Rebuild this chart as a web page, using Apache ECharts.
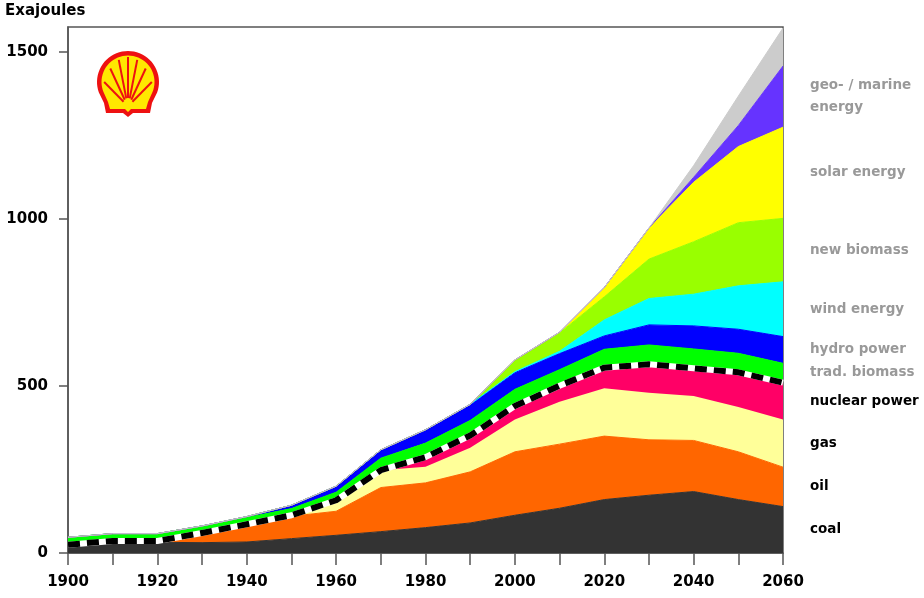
<!DOCTYPE html>
<html>
<head>
<meta charset="utf-8">
<script src="https://cdn.jsdelivr.net/npm/echarts@6/dist/echarts.min.js"></script>
<style>
html,body{margin:0;padding:0;background:#fff;}
#chart{width:924px;height:598px;}
</style>
</head>
<body>
<div id="chart"></div>
<script>
const years = ['1900','1910','1920','1930','1940','1950','1960','1970','1980','1990','2000','2010','2020','2030','2040','2050','2060'];
const coal        = [25,34,32,31,33,43,53,64,76,90,113,134,160,173,184,160,139];
const oil         = [0,2,4,29,53,67,72,132,134,153,190,192,190,166,153,143,118];
const gas         = [0,0,0,0,0,3,33,52,48,72,97,127,143,141,133,134,143];
const nuclear     = [0,0,0,0,0,0,0,0,29,37,40,48,62,85,83,104,110];
const nuclearEdge = [0,0,0,0,0,0,0,0,0,0,0,0,0,0,0,0,0];
const tradBiomass = [22,22,22,21,20,20,24,36,42,45,50,48,55,58,58,57,58];
const hydro       = [0,0,0,0,3,10,18,25,40,48,50,48,40,60,69,72,80];
const wind        = [0,0,0,0,0,0,0,0,0,0,3,7,48,79,95,130,164];
const newBiomass  = [0,0,0,0,0,0,0,0,0,0,35,55,69,118,157,189,190];
const solar       = [0,0,0,0,0,0,0,0,0,0,0,2,28,93,178,228,273];
const geoMarine   = [0,0,0,0,0,0,0,0,0,0,0,0,0,0,15,63,183];
const other       = [0,0,0,0,0,0,0,0,0,0,0,0,0,0,35,88,114];
const yTicks = [0,500,1000,1500];

const FONT = '"DejaVu Sans"';
const chart = echarts.init(document.getElementById('chart'), null, {renderer:'canvas'});

function area(name, data, color, z) {
  return {
    name, type:'line', stack:'total', data, showSymbol:false, symbol:'none',
    lineStyle:{width:1, color}, areaStyle:{color, opacity:1},
    emphasis:{disabled:true}, z: z || 2, silent:true
  };
}

const layers = [
  {name:'coal', data:coal, color:'#333333', label:'coal', lc:'#000'},
  {name:'oil', data:oil, color:'#FF6600', label:'oil', lc:'#000'},
  {name:'gas', data:gas, color:'#FFFF99', label:'gas', lc:'#000'},
  {name:'nuclear power', data:nuclear, color:'#FF0066', label:'nuclear power', lc:'#000'},
  {name:'trad. biomass', data:tradBiomass, color:'#00FF00', label:'trad. biomass', lc:'#999'},
  {name:'hydro power', data:hydro, color:'#0000FF', label:'hydro power', lc:'#999'},
  {name:'wind energy', data:wind, color:'#00FFFF', label:'wind energy', lc:'#999'},
  {name:'new biomass', data:newBiomass, color:'#99FF00', label:'new biomass', lc:'#999'},
  {name:'solar energy', data:solar, color:'#FFFF00', label:'solar energy', lc:'#999'},
  {name:'geo- / marine energy', data:geoMarine, color:'#6633FF', label:'geo- / marine\nenergy', lc:'#999'},
  {name:'other', data:other, color:'#CCCCCC', label:null}
];

const series = [];
layers.forEach(l => {
  const s = area(l.name, l.data, l.color);
  if (l.name === 'nuclear power') {
    s.lineStyle = {width:6, color:'#ffffff', cap:'butt', join:'round'};
    s.z = 4;
  }
  series.push(s);
  if (l.name === 'nuclear power') {
    series.push({
      name:'nuclear edge', type:'line', stack:'total', data:nuclearEdge, showSymbol:false, symbol:'none',
      lineStyle:{width:6, color:'#000', type:[12,7], cap:'butt', join:'round'},
      z:5, silent:true, emphasis:{disabled:true}
    });
  }
});

const axisColor = '#555';
chart.setOption({
  animation:false,
  backgroundColor:'#fff',
  grid:{left:68, right:141, top:27, bottom:45, show:true, borderColor:axisColor, borderWidth:1.5, backgroundColor:'transparent'},
  xAxis:{
    type:'category', data:years, boundaryGap:false,
    axisLine:{lineStyle:{color:axisColor, width:1.5}},
    axisTick:{show:true, length:12, interval:0, lineStyle:{color:axisColor, width:1.5}},
    axisLabel:{interval:1, color:'#000', fontFamily:FONT, fontWeight:'bold', fontSize:15, margin:22},
    splitLine:{show:false}
  },
  yAxis:{
    type:'value', min:0, max:1575, interval:500,
    axisLine:{show:true, lineStyle:{color:axisColor, width:1.5}},
    axisTick:{show:true, length:9, lineStyle:{color:axisColor, width:1.5}, customValues:yTicks},
    axisLabel:{color:'#000', fontFamily:FONT, fontWeight:'bold', fontSize:15, margin:20, customValues:yTicks,
      formatter: v => String(v)},
    splitLine:{show:false}
  },
  series
});

// right-side labels centered on each band at the last year
const last = years.length - 1;
let cum = 0;
const gfx = [];
const labelX = chart.convertToPixel({xAxisIndex:0}, years[last]) + 27;
layers.forEach(l => {
  const lo = cum;
  cum += l.data[last];
  if (!l.label) return;
  const y = chart.convertToPixel({yAxisIndex:0}, (lo + cum) / 2);
  gfx.push({
    type:'text', x:labelX, y:y, silent:true,
    style:{text:l.label, fill:l.lc, font:'bold 13.5px ' + FONT, textVerticalAlign:'middle', lineHeight:22, textAlign:'left'}
  });
});

// y axis name
gfx.push({type:'text', left:5, top:4, silent:true,
  style:{text:'Exajoules', fill:'#000', font:'bold 15px ' + FONT}});

// Shell logo (decorative)
function arcPts(cx, cy, r, a0, a1, n) {
  const pts = [];
  for (let i = 0; i <= n; i++) {
    const t = (a0 + (a1 - a0) * i / n) * Math.PI / 180;
    pts.push([cx + r * Math.cos(t), cy - r * Math.sin(t)]);
  }
  return pts;
}
const outer = arcPts(128, 82, 31, 200, -20, 40).concat([[152,103],[150,113],[133,113],[128,117],[123,113],[106,113],[104,103]]);
const inner = arcPts(128, 82, 26.5, 203, -23, 40).concat([[148,102],[146,109],[131,109],[128,112],[125,109],[110,109],[108,102]]);
const logo = [
  {type:'polygon', silent:true, shape:{points:outer}, style:{fill:'#EE1111'}},
  {type:'polygon', silent:true, shape:{points:inner}, style:{fill:'#FFE800'}}
];
[-62,-41,-20,0,20,41,62].forEach(a => {
  const r = a * Math.PI / 180;
  logo.push({type:'line', silent:true,
    shape:{x1:128 + 5*Math.sin(r), y1:105 - 7*Math.cos(r), x2:128 + 27*Math.sin(r), y2:104 - 47*Math.cos(r)},
    style:{stroke:'#EE1111', lineWidth:2}});
});
gfx.push({type:'group', silent:true, children:logo});

chart.setOption({graphic:gfx});
</script>
</body>
</html>
